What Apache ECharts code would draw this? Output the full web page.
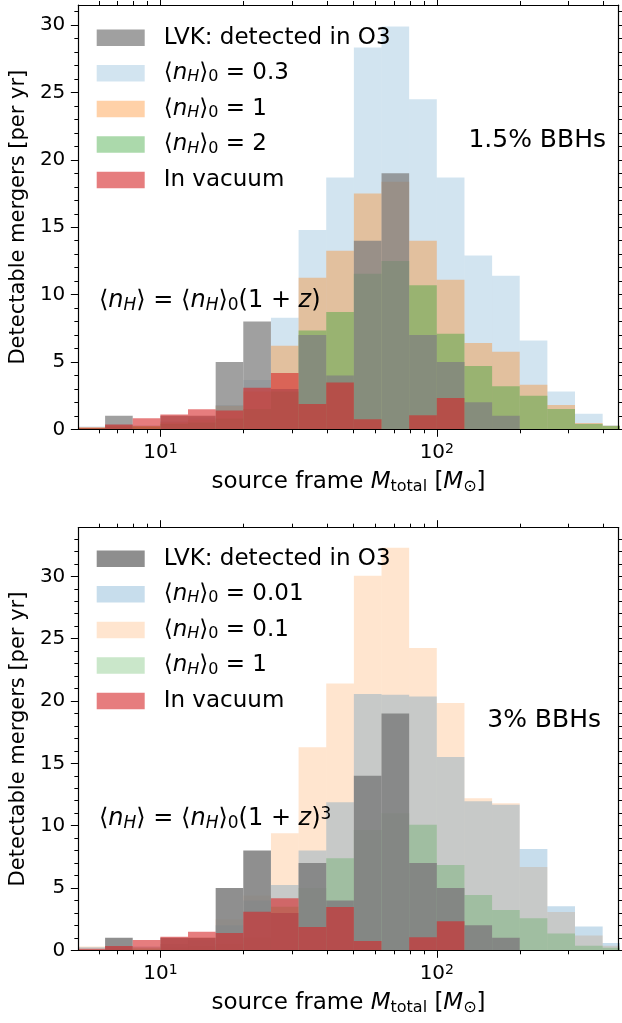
<!DOCTYPE html>
<html>
<head>
<meta charset="utf-8">
<script src="https://cdn.jsdelivr.net/npm/echarts@6/dist/echarts.min.js"></script>
<style>
  html, body { margin: 0; padding: 0; background: #fff; }
  #main { width: 622px; height: 1023px; }
</style>
</head>
<body>
<div id="main"></div>
<script>
// log-spaced bin edges (0.1 dex), solar masses
const massEdges = [5.012, 6.310, 7.943, 10.0, 12.59, 15.85, 19.95, 25.12, 31.62, 39.81, 50.12,
  63.10, 79.43, 100.0, 125.9, 158.5, 199.5, 251.2, 316.2, 398.1, 501.2];

// detectable mergers per year, one value per bin
const lvkDetected = [0, 1, 0, 1, 1, 5, 8, 3, 7, 4, 14, 19, 7, 5, 2, 1, 0, 0, 0, 0];
const inVacuum = [0.12, 0.35, 0.82, 1.09, 1.49, 1.39, 3.09, 4.18, 1.87, 3.47, 0.75, 0, 1.05, 2.33, 0, 0.03, 0, 0, 0, 0];

// top panel: 1.5% BBHs, <nH> = <nH>0 (1+z)
const topN03 = [0.2, 0.35, 0.3, 0.6, 0.9, 1.8, 3.66, 8.29, 14.8, 18.7, 28.35, 29.9, 24.5, 18.7, 12.9, 11.4, 6.6, 2.8, 1.15, 0.3];
const topN1 = [0.15, 0.3, 0.25, 0.5, 0.7, 1.75, 2.8, 6.2, 11.25, 13.25, 17.5, 18.37, 14.0, 11.1, 6.4, 5.75, 3.3, 1.8, 0.47, 0.27];
const topN2 = [0.1, 0.2, 0.2, 0.4, 0.5, 0.8, 1.5, 2.8, 7.33, 8.7, 11.55, 12.5, 10.7, 7.1, 4.7, 3.2, 2.5, 1.5, 0.4, 0.25];

// bottom panel: 3% BBHs, <nH> = <nH>0 (1+z)^3
const botN001 = [0.25, 0.3, 0.3, 0.5, 0.8, 2.0, 4.0, 5.24, 8.0, 11.87, 20.55, 20.5, 20.35, 15.5, 11.95, 11.68, 8.13, 3.53, 1.9, 0.59];
const botN01 = [0.3, 0.3, 0.25, 0.5, 1.0, 2.5, 4.4, 9.39, 16.28, 21.4, 30.05, 32.3, 24.25, 19.84, 12.19, 11.79, 6.68, 3.07, 1.18, 0.37];
const botN1 = [0.05, 0.1, 0.15, 0.2, 0.3, 0.5, 1.0, 3.5, 5.0, 7.38, 9.65, 11.0, 10.08, 6.84, 4.44, 3.24, 2.57, 1.34, 0.37, 0.2];

// ticks
const xMajor = [10, 100];
const xMinor = [6, 7, 8, 9, 20, 30, 40, 50, 60, 70, 80, 90, 200, 300, 400];
const yMajor = [0, 5, 10, 15, 20, 25, 30];
const yMinorTop = [0, 1, 2, 3, 4, 5, 6, 7, 8, 9, 10, 11, 12, 13, 14, 15, 16, 17, 18, 19, 20, 21, 22, 23, 24, 25, 26, 27, 28, 29, 30, 31];
const yMinorBot = [0, 1, 2, 3, 4, 5, 6, 7, 8, 9, 10, 11, 12, 13, 14, 15, 16, 17, 18, 19, 20, 21, 22, 23, 24, 25, 26, 27, 28, 29, 30, 31, 32, 33];

const FONT = 'DejaVu Sans';
const X_MIN = 5.05, X_MAX = 455;
const grids = [
  { left: 76, top: 5, width: 542.7, height: 424.3, yMax: 31.5, yMinor: yMinorTop },
  { left: 76, top: 527.7, width: 542.7, height: 422.6, yMax: 33.9, yMinor: yMinorBot }
];

const C = {
  gray1: 'rgba(128,128,128,0.75)', gray2: 'rgba(128,128,128,0.88)',
  blue1: 'rgba(31,119,180,0.2)', blue2: 'rgba(31,119,180,0.25)',
  orange1: 'rgba(255,127,14,0.36)', orange2: 'rgba(255,127,14,0.2)',
  green1: 'rgba(44,160,44,0.4)', green2: 'rgba(44,160,44,0.25)',
  red: 'rgba(214,39,40,0.6)'
};

const mathRich = {
  i: { fontFamily: FONT, fontStyle: 'italic', fontSize: 23, lineHeight: 24 },
  si: { fontFamily: FONT, fontStyle: 'italic', fontSize: 16, lineHeight: 14, verticalAlign: 'bottom' },
  s: { fontFamily: FONT, fontSize: 16, lineHeight: 14, verticalAlign: 'bottom' },
  sp: { width: 14 }
};

function renderBin(params, api) {
  const a = api.coord([api.value(0), api.value(2)]);
  const b = api.coord([api.value(1), 0]);
  return {
    type: 'rect',
    shape: { x: a[0], y: a[1], width: b[0] - a[0], height: b[1] - a[1] },
    style: { fill: api.visual('color') }
  };
}

function hist(name, values, color, g) {
  return {
    type: 'custom', name: name, xAxisIndex: g * 4, yAxisIndex: g * 4, clip: true,
    renderItem: renderBin, itemStyle: { color: color }, encode: { x: [0, 1], y: 2 },
    data: values.map((v, i) => [massEdges[i], massEdges[i + 1], v])
  };
}

function xAx(g, pos, ticks, len, major) {
  const ax = {
    type: 'log', logBase: 10, gridIndex: g, position: pos, min: X_MIN, max: X_MAX, z: 10,
    axisLine: { show: major, onZero: false, lineStyle: { color: '#000', width: 1.2 } },
    axisTick: { show: true, customValues: ticks, length: len, lineStyle: { color: '#000', width: 1 } },
    axisLabel: { show: false },
    splitLine: { show: false }
  };
  if (major && pos === 'bottom') {
    ax.axisLabel = {
      show: true, customValues: ticks, margin: 13, color: '#000', fontFamily: FONT, fontSize: 20,
      formatter: v => '10{sup|' + Math.round(Math.log10(v)) + '}',
      rich: { sup: { fontFamily: FONT, fontSize: 14, verticalAlign: 'top', lineHeight: 14 } }
    };
    ax.name = 'source frame {i|M}{s|total} [{i|M}{s|⊙}]';
    ax.nameLocation = 'middle';
    ax.nameGap = 40;
    ax.nameTextStyle = {
      color: '#000', fontFamily: FONT, fontSize: 23, lineHeight: 26,
      rich: {
        i: { fontFamily: FONT, fontStyle: 'italic', fontSize: 23, lineHeight: 26 },
        s: { fontFamily: FONT, fontSize: 16, lineHeight: 15, verticalAlign: 'bottom' }
      }
    };
  }
  return ax;
}

function yAx(g, pos, ticks, len, major) {
  const ax = {
    type: 'value', gridIndex: g, position: pos, min: 0, max: grids[g].yMax, z: 10,
    axisLine: { show: major, onZero: false, lineStyle: { color: '#000', width: 1.2 } },
    axisTick: { show: true, customValues: ticks, length: len, lineStyle: { color: '#000', width: 1 } },
    axisLabel: { show: false },
    splitLine: { show: false }
  };
  if (major && pos === 'left') {
    ax.axisLabel = { show: true, customValues: ticks, margin: 13, color: '#000', fontFamily: FONT, fontSize: 20 };
    ax.name = 'Detectable mergers [per yr]';
    ax.nameLocation = 'middle';
    ax.nameRotate = 90;
    ax.nameGap = 45;
    ax.nameTextStyle = { color: '#000', fontFamily: FONT, fontSize: 21 };
  }
  return ax;
}

const xAxis = [], yAxis = [];
grids.forEach((gr, g) => {
  xAxis.push(xAx(g, 'bottom', xMajor, 7.5, true), xAx(g, 'bottom', xMinor, 4, false),
             xAx(g, 'top', xMajor, 7.5, true), xAx(g, 'top', xMinor, 4, false));
  yAxis.push(yAx(g, 'left', yMajor, 7.5, true), yAx(g, 'left', gr.yMinor, 4, false),
             yAx(g, 'right', yMajor, 7.5, true), yAx(g, 'right', gr.yMinor, 4, false));
});

const LVK = 'LVK: detected in O3', VAC = 'In vacuum';
const n = v => '⟨nH⟩0 = ' + v;

const series = [
  hist(n('0.3'), topN03, C.blue1, 0),
  hist(n('1'), topN1, C.orange1, 0),
  hist(n('2'), topN2, C.green1, 0),
  hist(LVK, lvkDetected, C.gray1, 0),
  hist(VAC, inVacuum, C.red, 0),
  hist(n('0.1'), botN01, C.orange2, 1),
  hist(n('0.01'), botN001, C.blue2, 1),
  hist(n('1'), botN1, C.green2, 1),
  hist(LVK, lvkDetected, C.gray2, 1),
  hist(VAC, inVacuum, C.red, 1)
];

function legendFmt(name) {
  return '{sp| }' + name.replace('⟨nH⟩0', '⟨{i|n}{si|H}⟩{s|0}');
}

function legend(top, items) {
  return {
    orient: 'vertical', left: 96.7, top: top, padding: 0, itemWidth: 48, itemHeight: 16.5, itemGap: 11.6,
    icon: 'rect', selectedMode: false, formatter: legendFmt,
    textStyle: { color: '#000', fontFamily: FONT, fontSize: 23, lineHeight: 24, rich: mathRich },
    data: items.map(it => ({ name: it[0], icon: 'rect', itemStyle: { color: it[1], opacity: 1 } }))
  };
}

const annRich = {
  i: { fontFamily: FONT, fontStyle: 'italic', fontSize: 24, lineHeight: 26 },
  si: { fontFamily: FONT, fontStyle: 'italic', fontSize: 17, lineHeight: 14, verticalAlign: 'bottom' },
  s: { fontFamily: FONT, fontSize: 17, lineHeight: 14, verticalAlign: 'bottom' },
  sup: { fontFamily: FONT, fontSize: 17, lineHeight: 14, verticalAlign: 'top' }
};

function label(x, y, text, align, size, rich) {
  return {
    type: 'text', x: x, y: y, z: 20,
    style: { text: text, fill: '#000', fontFamily: FONT, fontSize: size, lineHeight: 26,
             align: align, verticalAlign: 'middle', rich: rich }
  };
}

const nH = '⟨{i|n}{si|H}⟩';
const option = {
  animation: false,
  backgroundColor: '#fff',
  grid: grids.map(g => ({ left: g.left, top: g.top, width: g.width, height: g.height, containLabel: false })),
  xAxis: xAxis,
  yAxis: yAxis,
  legend: [
    legend(25.7, [[LVK, '#a0a0a0'], [n('0.3'), C.blue1], [n('1'), C.orange1], [n('2'), C.green1], [VAC, C.red]]),
    legend(546.7, [[LVK, '#8e8e8e'], [n('0.01'), C.blue2], [n('0.1'), C.orange2], [n('1'), C.green2], [VAC, C.red]])
  ],
  graphic: [
    label(606, 140, '1.5% BBHs', 'right', 25),
    label(601, 720, '3% BBHs', 'right', 25),
    label(99, 301, nH + ' = ' + nH + '{s|0}(1 + {i|z})', 'left', 24, annRich),
    label(99, 819, nH + ' = ' + nH + '{s|0}(1 + {i|z}){sup|3}', 'left', 24, annRich)
  ],
  series: series
};

const chart = echarts.init(document.getElementById('main'), null, { renderer: 'canvas' });
chart.setOption(option);
</script>
</body>
</html>
